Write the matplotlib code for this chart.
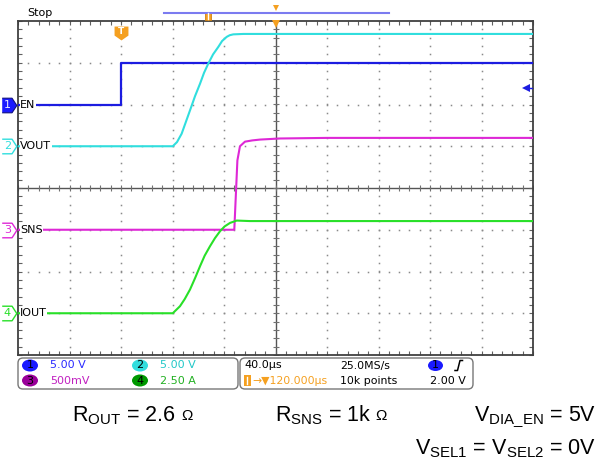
import numpy as np
import matplotlib.pyplot as plt
from matplotlib.patches import FancyBboxPatch, Ellipse, Rectangle
from matplotlib.lines import Line2D
from matplotlib.ticker import MultipleLocator
from matplotlib.transforms import Affine2D

plt.rcParams['mathtext.fontset'] = 'custom'
plt.rcParams['mathtext.rm'] = 'Liberation Sans'
plt.rcParams['mathtext.it'] = 'Liberation Sans'

# scope settings
t_div = 40.0            # us / div
t_center = 120.0        # horizontal position after trigger, us
trig_level = 2.0        # V on ch1
ch_scale = {1: 5.0, 2: 5.0, 3: 0.5, 4: 2.5}
ch_offset = {1: 2.0, 2: 1.0, 3: -1.0, 4: -3.0}
ch_name = {1: "EN", 2: "VOUT", 3: "SNS", 4: "IOUT"}
ch_unit = {1: "5.00 V", 2: "5.00 V", 3: "500mV", 4: "2.50 A"}

# captured waveforms (time in us after trigger)
en_t = [-80, 0, 0, 320]
en_v = [0, 0, 5.0, 5.0]

vout_t = [-80, 40.2, 43.5, 47.1, 53.6, 57.5, 61.4, 64.5, 67.8, 71.5, 75.6, 78.5, 82.1, 84.5, 87.2, 95, 320]
vout_v = [0, 0, 0.5, 1.5, 4.3, 6.0, 7.5, 8.8, 9.9, 11.0, 11.9, 12.6, 13.1, 13.3, 13.4, 13.45, 13.45]

sns_t = [-80, 88.0, 90.4, 92.4, 96.3, 102, 108, 123.5, 160, 320]
sns_v = [0, 0, 0.83, 1.0, 1.055, 1.07, 1.08, 1.093, 1.1, 1.1]

iout_t = [-80, 40.2, 45.8, 49.5, 53.6, 57.5, 61.4, 65.0, 69.1, 73.0, 76.9, 80.5, 84.7, 89.9, 100, 320]
iout_a = [0, 0, 0.42, 0.85, 1.42, 2.1, 2.82, 3.45, 4.01, 4.5, 4.91, 5.2, 5.41, 5.55, 5.52, 5.52]

colors = {1: '#1c1ce0', 2: '#30dede', 3: '#de28d6', 4: '#28e028'}
badge_fill = {1: '#1a1aff', 2: '#33dddd', 3: '#990099', 4: '#009900'}
info_color = {1: '#2b2bff', 2: '#22c8c8', 3: '#c020c0', 4: '#22b022'}
ORANGE = '#f5a020'

W, H = 598, 462
fig = plt.figure(figsize=(W / 100, H / 100), dpi=100)
# pixel coordinates from the top-left corner, for the screen furniture
pix = Affine2D().scale(1 / W, -1 / H).translate(0, 1) + fig.transFigure

ax = fig.add_axes([18 / W, (H - 355) / H, 515 / W, 334 / H])
t_left, t_right = t_center - 5 * t_div, t_center + 5 * t_div
ax.set_xlim(t_left, t_right)
ax.set_ylim(-4, 4)
ax.set_xticks(np.arange(t_left, t_right + 1, t_div))
ax.xaxis.set_minor_locator(MultipleLocator(t_div / 5))
ax.set_yticks(np.arange(-4, 5, 1))
ax.yaxis.set_minor_locator(MultipleLocator(0.2))
ax.tick_params(which='both', direction='in', top=True, right=True, length=3,
               width=0.8, color='#606060', labelbottom=False, labelleft=False)
for s in ax.spines.values():
    s.set_color('#404040')
    s.set_linewidth(1.3)

# dotted graticule
xs_minor = np.arange(t_left, t_right + 0.1, t_div / 5)
ys_minor = np.arange(-4, 4.01, 0.2)
for k in range(1, 10):
    x = t_left + k * t_div
    if x == t_center:
        continue
    ax.plot(np.full_like(ys_minor, x), ys_minor, ls='none', marker='s', ms=1.1,
            mew=0, color='#8a8a8a', zorder=1)
for y in [-3, -2, -1, 1, 2, 3]:
    ax.plot(xs_minor, np.full_like(xs_minor, y), ls='none', marker='s', ms=1.1,
            mew=0, color='#8a8a8a', zorder=1)

# centre cross with minor ticks
ax.axhline(0, color='#555555', lw=1, zorder=1)
ax.axvline(t_center, color='#555555', lw=1, zorder=1)
ax.plot(xs_minor, np.zeros_like(xs_minor), ls='none', marker='|', ms=4.5,
        mew=0.8, color='#707070', zorder=1)
ax.plot(np.full_like(ys_minor, t_center), ys_minor, ls='none', marker='_', ms=4.5,
        mew=0.8, color='#707070', zorder=1)


def to_div(ch, vals):
    return ch_offset[ch] + np.asarray(vals) / ch_scale[ch]


ax.plot(en_t, to_div(1, en_v), color=colors[1], lw=1.6, zorder=3)
ax.plot(vout_t, to_div(2, vout_v), color=colors[2], lw=1.5, zorder=3)
ax.plot(sns_t, to_div(3, sns_v), color=colors[3], lw=1.5, zorder=3)
ax.plot(iout_t, to_div(4, iout_a), color=colors[4], lw=1.5, zorder=4)

# trigger point marker
pent = [(-1, 1), (1, 1), (1, -0.3), (0, -1), (-1, -0.3)]
ax.plot(0, 3.72, marker=pent, ms=10, color=ORANGE, mew=0, zorder=5)
ax.text(0, 3.76, 'T', color='white', fontsize=6.5, fontweight='bold',
        ha='center', va='center', zorder=6)
# horizontal position markers
ax.plot(t_center, 3.93, marker='v', ms=6, color=ORANGE, mew=0, clip_on=False, zorder=6)
ax.plot(t_center, 4.31, marker='v', ms=4, color=ORANGE, mew=0, clip_on=False, zorder=6)
# trigger level arrow on ch1
lvl = ch_offset[1] + trig_level / ch_scale[1]
ax.plot([t_right - 5, t_right], [lvl, lvl], color=colors[1], lw=1, zorder=5)
ax.plot(t_right - 5.5, lvl, marker='<', ms=5.5, color=colors[1], mew=0, zorder=5)

# channel ground labels on the left
ytr = ax.get_yaxis_transform()
badge = [(-1, -1), (0.35, -1), (1, 0), (0.35, 1), (-1, 1)]
for ch in (1, 2, 3, 4):
    y = ch_offset[ch]
    if ch == 1:
        ax.plot(-0.0175, y, marker=badge, ms=10.5, mfc=badge_fill[ch], mec='#101080',
                mew=0.8, transform=ytr, clip_on=False, zorder=6)
        num_c = '#e8e8ff'
    else:
        ax.plot(-0.0175, y, marker=badge, ms=10.5, mfc='white', mec=colors[ch],
                mew=1, transform=ytr, clip_on=False, zorder=6)
        num_c = colors[ch]
    ax.text(-0.0205, y, str(ch), color=num_c, fontsize=8, ha='center', va='center',
            transform=ytr, zorder=7)
    ax.text(0.004, y, ch_name[ch], fontsize=8, ha='left', va='center',
            transform=ytr, zorder=7,
            bbox=dict(facecolor='white', edgecolor='none', pad=0.3))

# top status line
fig.text(27, 13, 'Stop', transform=pix, fontsize=8, va='center', ha='left')
fig.add_artist(Line2D([164, 389], [13, 13], transform=pix, color='#7b7bf0', lw=1.5))
fig.add_artist(Rectangle((205, 11.5), 6, 8.5, transform=pix, facecolor=ORANGE,
                         edgecolor='#d08010', lw=0.6))
fig.add_artist(Line2D([208, 208], [13, 18.5], transform=pix, color='white', lw=1))

# readout boxes
for x0, x1 in [(18, 238), (240, 473)]:
    fig.add_artist(FancyBboxPatch((x0, 358), x1 - x0, 31, transform=pix,
                                  boxstyle='round,pad=0,rounding_size=5',
                                  facecolor='white', edgecolor='#777777', lw=1))

rows = {1: (30, 365.5), 2: (140, 365.5), 3: (30, 380.5), 4: (140, 380.5)}
for ch, (cx, cy) in rows.items():
    fig.add_artist(Ellipse((cx, cy), 16, 12, transform=pix, facecolor=badge_fill[ch],
                           edgecolor='none'))
    fig.text(cx, cy, str(ch), transform=pix, fontsize=8, ha='center', va='center',
             color='black')
    fig.text(cx + 20, cy, ch_unit[ch], transform=pix, fontsize=8, ha='left',
             va='center', color=info_color[ch])

fig.text(244, 365.5, '40.0µs', transform=pix, fontsize=8, ha='left', va='center')
fig.text(340, 365.5, '25.0MS/s', transform=pix, fontsize=7.8, ha='left', va='center')
fig.text(340, 380.5, '10k points', transform=pix, fontsize=7.8, ha='left', va='center')
fig.text(466, 380.5, '2.00 V', transform=pix, fontsize=8, ha='right', va='center')
fig.add_artist(Ellipse((435.5, 365.5), 15, 11, transform=pix, facecolor=badge_fill[1],
                       edgecolor='none'))
fig.text(435.5, 365.5, '1', transform=pix, fontsize=8, ha='center', va='center')
fig.add_artist(Line2D([455, 457.5, 460, 462.5], [370.5, 370.5, 360.5, 360.5],
                      transform=pix, color='black', lw=1.1))
fig.add_artist(Rectangle((243.5, 375), 7.5, 11, transform=pix, facecolor=ORANGE,
                         edgecolor='none'))
fig.add_artist(Line2D([247.25, 247.25], [377, 384], transform=pix, color='white', lw=1))
fig.text(252, 380.5, '→▼120.000µs', transform=pix, fontsize=7.8, ha='left',
         va='center', color=ORANGE)

# test conditions
big = 15.5
fig.text(72, 421.5, r'$\mathregular{R_{OUT}}$ = 2.6', transform=pix, fontsize=big,
         family='Liberation Sans', va='baseline')
fig.text(181, 420, 'Ω', transform=pix, fontsize=11, family='Liberation Sans',
         va='baseline')
fig.text(275, 421.5, r'$\mathregular{R_{SNS}}$ = 1k', transform=pix, fontsize=big,
         family='Liberation Sans', va='baseline')
fig.text(375, 420, 'Ω', transform=pix, fontsize=11, family='Liberation Sans',
         va='baseline')
fig.text(596, 421.5, r'$\mathregular{V_{DIA\_EN}}$ = 5V', transform=pix, fontsize=big,
         family='Liberation Sans', va='baseline', ha='right')
fig.text(596, 454, r'$\mathregular{V_{SEL1}}$ = $\mathregular{V_{SEL2}}$ = 0V',
         transform=pix, fontsize=big, family='Liberation Sans', va='baseline', ha='right')

fig.savefig('out.png', dpi=100)
